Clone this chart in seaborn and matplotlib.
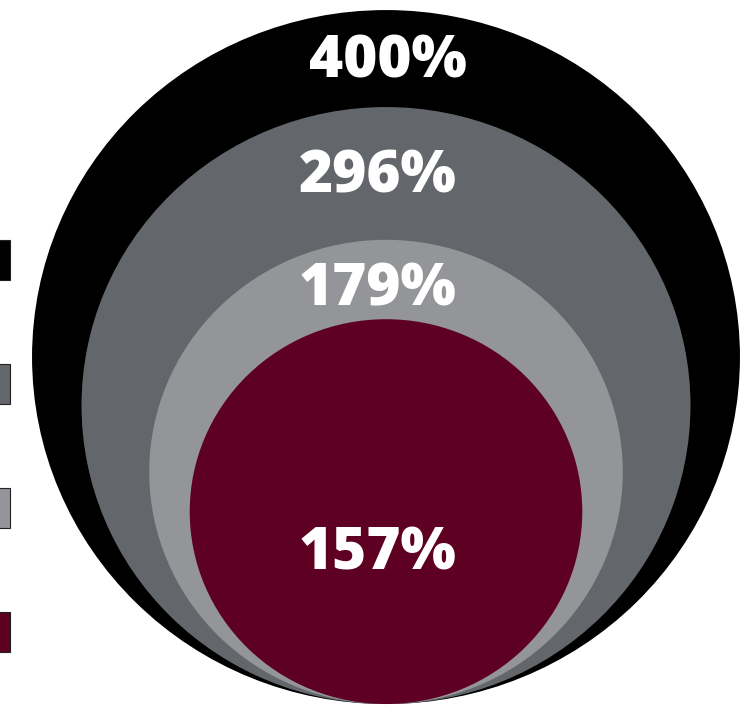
import matplotlib
matplotlib.use("Agg")
import matplotlib.pyplot as plt
from matplotlib.patches import Ellipse, Patch
import numpy as np
import pandas as pd
import seaborn as sns

# ---- data ----
labels = ["400%", "296%", "179%", "157%"]
label_values = [400, 296, 179, 157]
# relative circle areas (innermost circle is drawn smaller)
circle_areas = [400, 296, 179, 123]
colors = ["#000000", "#63666a", "#939598", "#5e0022"]

df = pd.DataFrame({"label": labels, "value": label_values,
                   "area": circle_areas, "color": colors})
df["r"] = np.sqrt(df["area"])

sns.set_theme(style="white")
plt.rcParams["font.family"] = ["Open Sans", "DejaVu Sans"]

fig = plt.figure(figsize=(7.52, 7.12), dpi=100)
ax = fig.add_axes([0, 0, 1, 1])
ax.set_xlim(-21.81, 20.68)
ax.set_ylim(-0.46, 40.58)
ax.set_aspect("auto")
ax.axis("off")

# nested circles tangent at the bottom
for i, row in df.iterrows():
    ax.add_patch(Ellipse((0, row["r"]), 2 * row["r"], 2 * row["r"],
                         facecolor=row["color"], edgecolor="none", zorder=i + 1))

# labels
cap = 1.12
tops = list(2 * df["r"])
for i, row in df.iterrows():
    if i < len(df) - 1:
        yc = (tops[i] + tops[i + 1]) / 2
        if i == len(df) - 2:
            yc -= 0.4
    else:
        yc = row["r"] * 0.8
    xc = 0.1 if i == 0 else -0.45
    ax.text(xc, yc - cap, row["label"], color="white", fontsize=42,
            fontweight=800, ha="center", va="baseline", zorder=10)

# legend swatches (cut off at left edge)
handles = [Patch(facecolor=c, edgecolor="#222222", linewidth=0.8) for c in colors]
fig.legend(handles, ["", "", "", ""], loc="upper right",
           bbox_to_anchor=(10 / 752, (712 - 240) / 712),
           frameon=False, borderpad=0, borderaxespad=0, fontsize=10,
           handleheight=4.05, handlelength=4.05, labelspacing=6.06,
           markerfirst=False, handletextpad=0)

fig.savefig("out.png", dpi=100)
